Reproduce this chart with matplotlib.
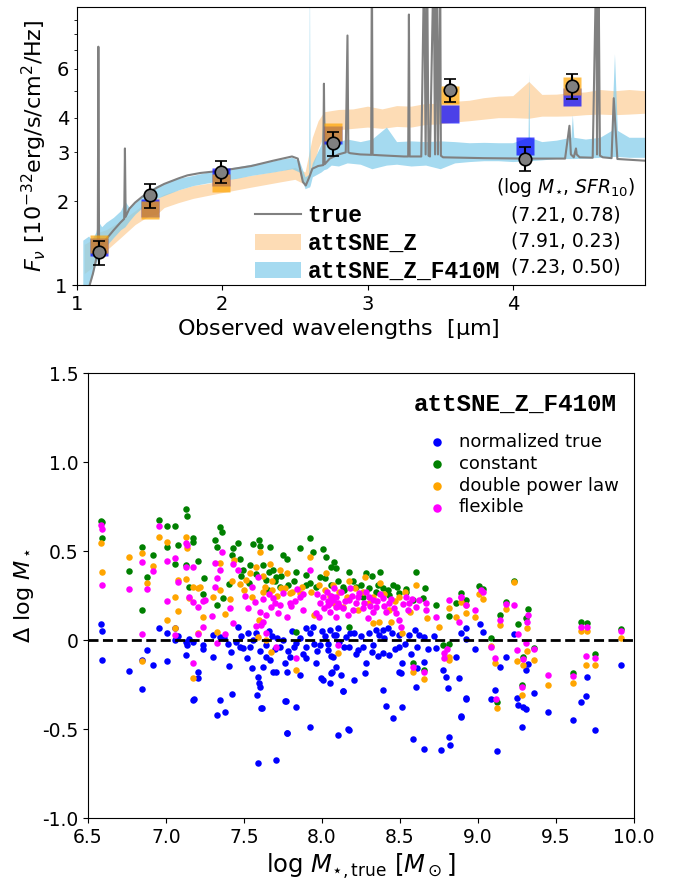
import numpy as np
import matplotlib
matplotlib.use("Agg")
import matplotlib.pyplot as plt
from matplotlib.lines import Line2D
from matplotlib.patches import Patch
from matplotlib.ticker import FixedLocator, FixedFormatter

# ---------------------------------------------------------------- SED panel data
# intrinsic ("true") spectrum: continuum knots plus emission-line spikes [um, 1e-32 cgs]
true_wave = [1.08, 1.11, 1.135, 1.143, 1.147, 1.152, 1.17, 1.20, 1.25, 1.30, 1.325, 1.33, 1.335,
             1.36, 1.40, 1.45, 1.50, 1.55, 1.60, 1.70, 1.76, 1.85, 2.00, 2.20, 2.35, 2.48,
             2.52, 2.555, 2.575, 2.60, 2.62, 2.66, 2.695, 2.70, 2.705, 2.74, 2.80, 2.85,
             2.862, 2.868, 2.88, 2.95, 3.025, 3.03, 3.035, 3.08, 3.25, 3.28, 3.285, 3.29,
             3.37, 3.39, 3.40, 3.41, 3.42, 3.43, 3.455, 3.465, 3.475, 3.485, 3.50, 3.505,
             3.52, 3.80, 4.10, 4.36, 4.39, 4.40, 4.42, 4.435, 4.44, 4.46, 4.55, 4.575, 4.58,
             4.59, 4.60, 4.62, 4.68, 4.695, 4.72, 4.91]
true_flux = [0.97, 1.10, 1.26, 1.30, 7.2, 1.33, 1.40, 1.46, 1.57, 1.68, 1.73, 3.1, 1.76,
             1.88, 1.98, 2.08, 2.16, 2.24, 2.31, 2.42, 2.48, 2.53, 2.58, 2.68, 2.80, 2.90,
             2.85, 2.35, 2.28, 2.45, 2.62, 2.68, 2.70, 5.3, 2.72, 2.85, 2.95, 3.00,
             7.9, 3.00, 2.98, 2.95, 2.94, 15.0, 2.94, 2.93, 2.90, 2.90, 9.4, 2.90,
             2.90, 15.0, 2.95, 15.0, 2.92, 2.90, 15.0, 2.95, 15.0, 2.95, 15.0, 2.92,
             2.88, 2.86, 2.85, 2.85, 3.74, 2.95, 2.88, 3.10, 2.95, 2.88, 2.87, 15.0, 2.95,
             15.0, 2.92, 2.88, 2.86, 4.7, 2.84, 2.80]

# 16-84% model envelopes: (wavelength, lower, upper)
band_wave_z = [1.05, 1.10, 1.15, 1.20, 1.30, 1.40, 1.50, 1.55, 1.60, 1.70, 1.80, 1.90, 2.00,
               2.20, 2.40, 2.50, 2.57, 2.62, 2.66, 2.70, 2.80, 2.90, 3.00, 3.10, 3.20, 3.30,
               3.40, 3.50, 3.60, 3.70, 3.80, 3.90, 4.00, 4.11, 4.20, 4.30, 4.40, 4.50,
               4.60, 4.70, 4.80, 4.91]
band_lo_z = [1.10, 1.15, 1.28, 1.33, 1.48, 1.65, 1.78, 1.80, 1.90, 1.98, 2.05, 2.10, 2.15,
             2.25, 2.35, 2.40, 2.30, 2.60, 3.10, 3.45, 3.62, 3.66, 3.70, 3.66, 3.72, 3.70,
             3.78, 3.80, 3.86, 3.90, 3.95, 4.00, 4.00, 3.98, 4.05, 4.05, 4.06, 4.10,
             4.12, 4.10, 4.12, 4.15]
band_hi_z = [1.40, 1.45, 1.55, 1.58, 1.70, 1.85, 2.02, 2.05, 2.12, 2.20, 2.28, 2.32, 2.38,
             2.48, 2.58, 2.65, 2.55, 3.40, 3.90, 4.20, 4.28, 4.30, 4.40, 4.30, 4.42, 4.40,
             4.50, 4.50, 4.58, 4.62, 4.72, 4.78, 4.80, 5.40, 4.85, 4.86, 4.92, 4.95,
             5.05, 5.00, 5.05, 5.00]

band_wave_f = [1.04, 1.08, 1.10, 1.13, 1.145, 1.17, 1.20, 1.25, 1.30, 1.33, 1.36, 1.40, 1.45,
               1.50, 1.55, 1.60, 1.70, 1.80, 1.90, 2.00, 2.10, 2.20, 2.35, 2.48, 2.53, 2.57,
               2.595, 2.60, 2.605, 2.62, 2.68, 2.70, 2.72, 2.75, 2.80, 2.86, 2.95, 3.03,
               3.13, 3.20, 3.30, 3.40, 3.50, 3.60, 3.70, 3.80, 3.90, 4.00, 4.105, 4.11,
               4.115, 4.20, 4.30, 4.40, 4.41, 4.42, 4.50, 4.60, 4.68, 4.70, 4.72, 4.80, 4.91]
band_lo_f = [0.95, 1.00, 1.05, 1.20, 1.25, 1.30, 1.38, 1.48, 1.58, 1.62, 1.70, 1.80, 1.90,
             1.98, 2.05, 2.10, 2.20, 2.28, 2.33, 2.38, 2.42, 2.48, 2.55, 2.62, 2.55, 2.22,
             2.25, 2.25, 2.28, 2.45, 2.55, 2.60, 2.62, 2.70, 2.68, 2.75, 2.72, 2.62,
             2.70, 2.72, 2.68, 2.70, 2.62, 2.75, 2.78, 2.80, 2.80, 2.78, 2.80, 2.80,
             2.80, 2.82, 2.85, 2.85, 2.85, 2.85, 2.86, 2.88, 2.90, 2.90, 2.90, 2.88, 2.88]
band_hi_f = [1.45, 1.50, 1.45, 1.55, 1.70, 1.62, 1.68, 1.75, 1.85, 2.00, 1.90, 1.98, 2.10,
             2.20, 2.28, 2.33, 2.42, 2.48, 2.55, 2.62, 2.66, 2.72, 2.80, 2.88, 2.80, 2.45,
             2.50, 15.0, 2.55, 2.75, 3.20, 4.20, 3.30, 3.25, 3.28, 3.35, 3.28, 3.35,
             3.70, 3.28, 3.30, 3.28, 3.30, 3.28, 3.25, 3.26, 3.25, 3.25, 3.40, 5.80,
             3.40, 3.28, 3.32, 3.40, 4.10, 3.40, 3.35, 3.40, 3.60, 6.80, 3.60, 3.40, 3.40]

# NIRCam photometry
filter_wave = [1.154, 1.501, 1.989, 2.762, 3.568, 4.082, 4.408]
obs_flux = [1.31, 2.10, 2.56, 3.23, 5.04, 2.85, 5.20]
obs_err = [0.13, 0.21, 0.24, 0.31, 0.48, 0.28, 0.53]
# model photometry (attSNE_Z has no F410M)
model_wave_z = [1.154, 1.501, 1.989, 2.762, 3.568, 4.408]
model_flux_z = [1.40, 1.86, 2.33, 3.55, 4.82, 5.20]
model_wave_f = [1.154, 1.501, 1.989, 2.762, 3.568, 4.082, 4.408]
model_flux_f = [1.37, 1.90, 2.45, 3.46, 4.14, 3.17, 4.76]

fit_names = ["true", "attSNE_Z", "attSNE_Z_F410M"]
fit_values = ["(7.21, 0.78)", "(7.91, 0.23)", "(7.23, 0.50)"]

# ---------------------------------------------------------------- mass-offset panel data
# (log M_true, Delta log M) for each star-formation-history prior
pts_normalized = [
    (6.585, 0.09), (6.59, 0.05), (6.59, -0.115), (6.764, -0.174), (6.845, -0.11), (6.845, -0.277),
    (6.875, -0.054), (6.918, -0.142), (6.956, 0.069), (7.005, 0.041), (7.005, -0.12), (7.055, 0.066),
    (7.06, 0.0), (7.078, 0.024), (7.127, -0.01), (7.135, -0.03), (7.13, -0.082), (7.145, 0.008),
    (7.17, -0.335), (7.174, -0.01), (7.206, -0.177), (7.206, -0.215), (7.238, -0.028), (7.238, -0.052),
    (7.302, -0.094), (7.302, 0.028), (7.345, -0.337), (7.324, -0.421), (7.377, -0.402), (7.426, -0.303),
    (7.405, -0.146), (7.419, -0.066), (7.462, 0.075), (7.473, -0.037), (7.526, 0.037), (7.494, -0.047),
    (7.554, -0.159), (7.59, -0.206), (7.596, -0.243), (7.6, -0.262), (7.583, -0.309), (7.611, -0.384),
    (7.59, -0.693), (7.703, -0.674), (7.643, -0.028), (7.643, -0.094), (7.664, -0.112), (7.686, -0.178),
    (7.703, -0.178), (7.728, -0.037), (7.762, -0.131), (7.775, -0.178), (7.767, -0.34), (7.792, -0.094),
    (7.835, -0.019), (7.835, -0.378), (7.856, -0.197), (7.899, 0.066), (7.941, 0.071), (7.92, 0.037),
    (7.963, -0.127), (7.995, -0.215), (8.005, -0.225), (8.037, -0.056), (8.058, -0.187), (7.924, -0.49),
    (7.775, -0.52), (8.101, -0.534), (8.09, 0.028), (7.345, 0.019), (7.536, -0.037), (7.899, -0.037),
    (7.984, -0.028), (7.37, 0.01), (7.45, -0.01), (7.56, 0.0), (7.6, -0.06), (7.68, 0.02), (7.70, -0.05),
    (7.75, 0.0), (7.81, 0.05), (7.88, -0.08), (7.95, -0.02), (8.02, 0.02), (8.06, -0.09), (7.66, 0.05),
    (7.52, -0.10), (7.62, -0.15), (7.97, -0.06), (7.86, 0.01), (7.78, -0.06), (7.76, -0.34),
    (7.617, -0.383), (7.777, -0.52), (8.168, -0.501), (8.135, -0.284), (7.178, -0.333),
    (8.048, 0.056), (8.08, 0.028), (8.112, -0.009), (8.155, 0.019), (8.176, -0.037), (8.208, 0.037),
    (8.229, -0.056), (8.261, -0.037), (8.283, -0.131), (8.321, -0.066), (8.346, 0.056), (8.368, 0.028),
    (8.389, 0.056), (8.389, -0.075), (8.42, 0.066), (8.432, -0.084), (8.496, 0.028), (8.496, -0.037),
    (8.512, -0.131), (8.506, -0.187), (8.559, 0.028), (8.597, 0.056), (8.606, -0.037), (8.655, 0.019),
    (8.652, -0.122), (8.602, -0.262), (8.73, -0.047), (8.773, -0.169), (8.794, -0.206), (8.805, -0.272),
    (8.879, -0.215), (8.922, -0.328), (8.89, -0.431), (8.858, -0.094), (8.89, 0.037), (8.922, 0.066),
    (8.41, -0.37), (8.453, -0.44), (8.512, -0.375), (8.389, -0.28), (8.133, -0.287), (8.172, -0.503),
    (8.581, -0.557), (8.652, -0.61), (8.762, -0.618), (8.811, -0.547), (8.82, -0.59), (8.122, -0.197),
    (8.091, -0.15), (8.069, -0.094), (8.065, -0.178), (8.048, -0.243), (8.208, -0.225), (8.278, -0.185),
    (8.496, -0.178), (8.611, -0.159),
    (8.00, 0.05), (8.04, -0.02), (8.10, 0.07), (8.14, -0.04), (8.18, 0.04), (8.22, -0.08), (8.25, 0.02),
    (8.30, 0.04), (8.33, -0.03), (8.36, -0.09), (8.40, 0.01), (8.45, 0.04), (8.47, -0.05), (8.53, -0.02),
    (8.57, -0.08), (8.62, 0.03), (8.68, -0.05), (8.72, 0.02), (7.90, -0.10), (7.82, -0.04), (7.71, 0.01),
    (7.58, 0.04), (7.48, 0.02), (7.40, -0.02),
    (9.012, 0.09), (9.033, 0.047), (8.923, 0.004), (8.982, -0.052), (9.14, -0.15), (9.231, 0.034),
    (9.182, -0.097), (9.321, -0.135), (9.31, -0.169), (9.359, -0.295), (9.11, -0.281), (9.082, -0.333),
    (8.923, -0.331), (8.891, -0.427), (9.253, -0.328), (9.259, -0.365), (9.289, -0.374), (9.31, -0.389),
    (9.281, -0.487), (9.121, -0.622), (9.449, -0.403), (9.608, -0.45), (9.7, -0.206), (9.689, -0.315),
    (9.66, -0.346), (9.749, -0.506), (9.917, -0.14)]

pts_constant = [
    (6.585, 0.67), (6.59, 0.665), (6.59, 0.571), (6.764, 0.388), (6.845, 0.521), (6.845, 0.167),
    (6.875, 0.352), (6.918, 0.478), (6.956, 0.672), (7.005, 0.639), (7.005, 0.524), (7.055, 0.64),
    (7.06, 0.427), (7.078, 0.534), (7.127, 0.734), (7.135, 0.697), (7.13, 0.421), (7.145, 0.30),
    (7.174, 0.575), (7.174, 0.552), (7.206, 0.444), (7.238, 0.257),
    (7.345, 0.637), (7.356, 0.605), (7.313, 0.562), (7.324, 0.524), (7.243, 0.351), (7.43, 0.515),
    (7.462, 0.543), (7.426, 0.478), (7.473, 0.453), (7.558, 0.541), (7.596, 0.562), (7.6, 0.528),
    (7.664, 0.524), (7.75, 0.478), (7.775, 0.453), (7.856, 0.515), (7.924, 0.571), (7.941, 0.496),
    (8.005, 0.509), (8.026, 0.468), (8.08, 0.44), (7.686, 0.393), (7.707, 0.356), (7.643, 0.337),
    (7.366, 0.234), (7.328, 0.197), (7.405, 0.315), (7.494, 0.393), (7.536, 0.421), (7.728, 0.30),
    (7.835, 0.384), (7.899, 0.309), (7.984, 0.356), (8.058, 0.412), (7.835, 0.047), (7.654, 0.281),
    (7.90, 0.365),
    (7.62, 0.42), (7.66, 0.38), (7.70, 0.33), (7.74, 0.36), (7.78, 0.31), (7.82, 0.33), (7.92, 0.32),
    (7.96, 0.30), (8.02, 0.35), (8.06, 0.31), (8.10, 0.33), (8.14, 0.28), (8.20, 0.33), (8.25, 0.31),
    (8.30, 0.29), (8.36, 0.31), (8.42, 0.28), (8.48, 0.30), (8.54, 0.27), (7.48, 0.36), (7.53, 0.32),
    (7.58, 0.37),
    (8.091, 0.403), (8.172, 0.384), (8.283, 0.378), (8.321, 0.359), (8.372, 0.384), (8.453, 0.309),
    (8.602, 0.384), (8.538, 0.285), (8.662, 0.291), (8.649, 0.234), (8.73, 0.197), (8.811, 0.135),
    (8.858, 0.206), (8.922, 0.225), (8.133, 0.30), (8.219, 0.30), (8.261, 0.243), (8.346, 0.272),
    (8.389, 0.291), (8.432, 0.253), (8.496, 0.262), (8.581, 0.225), (8.773, -0.028), (8.815, -0.022),
    (8.581, -0.131), (8.652, -0.169), (8.172, 0.075),
    (8.891, 0.262), (9.008, 0.303), (9.029, 0.285), (9.082, 0.009), (9.178, 0.215), (9.231, 0.333),
    (9.142, 0.14), (9.259, 0.09), (9.321, 0.172), (9.306, 0.125), (9.291, -0.094), (9.359, -0.047),
    (9.121, -0.346), (9.281, -0.255), (9.608, -0.184), (9.657, 0.103), (9.70, 0.094), (9.749, -0.08),
    (9.917, 0.062)]

pts_double_power = [
    (6.585, 0.545), (6.59, 0.38), (6.764, 0.464), (6.845, 0.491), (6.845, -0.12), (6.875, 0.322),
    (6.918, 0.418), (6.956, 0.579), (7.005, 0.552), (7.005, 0.112), (7.055, 0.243), (7.06, 0.066),
    (7.078, 0.337), (7.078, 0.165), (7.127, 0.58), (7.135, 0.515), (7.13, 0.343), (7.145, 0.234),
    (7.17, -0.215), (7.174, 0.30), (7.206, 0.291), (7.206, 0.037), (7.238, 0.131),
    (7.217, 0.30), (7.298, 0.24), (7.349, 0.434), (7.349, 0.281), (7.377, 0.146), (7.409, 0.228),
    (7.436, 0.449), (7.426, 0.333), (7.473, 0.315), (7.515, 0.337), (7.541, 0.378), (7.579, 0.412),
    (7.60, 0.496), (7.622, 0.272), (7.632, 0.30), (7.664, 0.427), (7.681, 0.281), (7.728, 0.393),
    (7.739, 0.29), (7.775, 0.374), (7.792, 0.262), (7.856, 0.262), (7.92, 0.468), (7.95, 0.14),
    (8.026, 0.378), (8.068, 0.309), (8.08, 0.206), (7.643, 0.0), (7.675, -0.07), (7.835, -0.169),
    (7.324, 0.047), (7.596, 0.112), (7.59, 0.019),
    (7.62, 0.36), (7.68, 0.33), (7.71, 0.25), (7.76, 0.29), (7.81, 0.27), (7.87, 0.30), (7.93, 0.27),
    (7.98, 0.31), (8.02, 0.28), (8.05, 0.25), (8.11, 0.27), (8.16, 0.24), (8.21, 0.29), (8.26, 0.27),
    (8.33, 0.24), (8.40, 0.26), (8.47, 0.22), (8.53, 0.27), (7.50, 0.28), (7.55, 0.24),
    (8.172, 0.334), (8.278, 0.353), (8.372, 0.319), (8.496, 0.244), (8.602, 0.31), (8.564, 0.159),
    (8.67, 0.122), (8.751, 0.075), (8.811, 0.178), (8.811, -0.094), (8.811, -0.112), (8.858, 0.131),
    (8.581, -0.178), (8.652, -0.22), (8.101, -0.075), (8.325, 0.094), (8.368, 0.103), (8.442, 0.103),
    (8.512, 0.037), (8.069, 0.215), (8.133, 0.187), (8.229, 0.169), (8.304, 0.206), (8.432, 0.169),
    (8.922, 0.197),
    (8.891, 0.215), (8.923, 0.15), (9.008, 0.258), (9.033, 0.228), (8.982, 0.128), (9.082, -0.034),
    (9.11, -0.127), (9.178, 0.172), (9.231, 0.324), (9.142, 0.082), (9.312, 0.066), (9.312, -0.06),
    (9.25, -0.116), (9.291, -0.142), (9.359, -0.112), (9.121, -0.384), (9.281, -0.309), (9.449, -0.25),
    (9.608, -0.243), (9.657, 0.049), (9.70, 0.049), (9.689, -0.142), (9.749, -0.142), (9.917, 0.013)]

pts_flexible = [
    (6.585, 0.645), (6.59, 0.625), (6.59, 0.309), (6.764, 0.285), (6.845, 0.436), (6.845, 0.036),
    (6.875, 0.285), (6.918, 0.389), (6.956, 0.64), (7.005, 0.446), (7.005, 0.221), (7.055, 0.459),
    (7.06, 0.028), (7.078, 0.328), (7.127, 0.543), (7.135, 0.534), (7.13, 0.408), (7.145, 0.243),
    (7.17, -0.127), (7.174, 0.412), (7.174, 0.212), (7.206, 0.184), (7.206, 0.034), (7.238, 0.219),
    (7.356, 0.496), (7.313, 0.43), (7.324, 0.346), (7.313, 0.30), (7.345, 0.393), (7.249, 0.225),
    (7.292, 0.135), (7.238, 0.071), (7.377, 0.034), (7.324, -0.015), (7.409, 0.178), (7.43, 0.098),
    (7.43, 0.427), (7.462, 0.393), (7.505, 0.247), (7.526, 0.178), (7.569, 0.215), (7.59, 0.356),
    (7.60, 0.159), (7.611, 0.084), (7.643, 0.14), (7.675, 0.187), (7.686, 0.234), (7.728, 0.197),
    (7.75, 0.262), (7.775, 0.131), (7.792, 0.206), (7.839, 0.285), (7.856, 0.243), (7.878, 0.169),
    (7.92, 0.393), (7.963, 0.15), (8.005, 0.243), (8.037, 0.197), (8.068, 0.225), (8.09, 0.187),
    (7.835, -0.103), (7.707, -0.037), (7.643, 0.037),
    (7.97, 0.26), (7.99, 0.21), (8.01, 0.18), (8.03, 0.27), (8.05, 0.16), (8.07, 0.24), (8.10, 0.21),
    (7.98, 0.13), (8.04, 0.22), (8.08, 0.29), (8.06, 0.25), (8.11, 0.19), (8.15, 0.22), (8.19, 0.25),
    (8.20, 0.17), (8.23, 0.24), (8.27, 0.21), (8.31, 0.19), (8.35, 0.22), (8.37, 0.26), (8.40, 0.19),
    (8.44, 0.23), (8.46, 0.18), (8.52, 0.20), (8.55, 0.17), (8.58, 0.23), (8.12, 0.27), (8.18, 0.29),
    (8.28, 0.27), (8.33, 0.16), (7.55, 0.30), (7.62, 0.23), (7.66, 0.26), (7.70, 0.21), (7.72, 0.15),
    (7.80, 0.19), (7.83, 0.22), (7.88, 0.26), (7.58, 0.08), (7.62, 0.10),
    (8.101, -0.028), (8.78, -0.071), (8.803, -0.053), (8.782, -0.103), (8.655, -0.178), (8.581, -0.15),
    (8.811, 0.225), (8.89, 0.243), (8.73, 0.131), (8.666, 0.169), (8.048, 0.206), (8.091, 0.243),
    (8.133, 0.178), (8.165, 0.14), (8.176, 0.225), (8.219, 0.206), (8.261, 0.178), (8.304, 0.243),
    (8.325, 0.225), (8.346, 0.187), (8.389, 0.234), (8.432, 0.206), (8.474, 0.15), (8.496, 0.112),
    (8.506, 0.075), (8.538, 0.243), (8.559, 0.206), (8.602, 0.187), (8.623, 0.225), (8.666, 0.206),
    (8.091, 0.131), (8.24, 0.262), (8.41, 0.159), (8.293, 0.122),
    (8.891, 0.243), (8.923, 0.197), (8.88, 0.103), (9.019, 0.281), (9.033, 0.268), (8.982, 0.169),
    (9.082, -0.037), (9.11, -0.099), (9.178, 0.202), (9.231, 0.195), (9.142, 0.112), (9.259, 0.034),
    (9.321, 0.14), (9.312, 0.101), (9.31, -0.019), (9.25, -0.056), (9.291, -0.105), (9.359, -0.05),
    (9.118, -0.333), (9.281, -0.262), (9.449, -0.198), (9.608, -0.202), (9.657, 0.071), (9.70, 0.071),
    (9.689, -0.088), (9.749, -0.103), (9.917, 0.053)]

sfh_labels = ["normalized true", "constant", "double power law", "flexible"]
sfh_colors = ["blue", "green", "orange", "magenta"]

x_ticks = [6.5, 7.0, 7.5, 8.0, 8.5, 9.0, 9.5, 10.0]
y_ticks = [-1.0, -0.5, 0.0, 0.5, 1.0, 1.5]
y_tick_labels = ["-1.0", "-0.5", "0", "0.5", "1.0", "1.5"]

# ---------------------------------------------------------------- figure
mono = {"family": "Liberation Mono", "weight": "bold"}

fig = plt.figure(figsize=(6.76, 8.81), dpi=100)

# SED panel
ax1 = fig.add_axes([0.1139, 0.6765, 0.8402, 0.3155])
ax1.fill_between(band_wave_z, band_lo_z, band_hi_z, color="#fddcb5", lw=0, zorder=1)
ax1.fill_between(band_wave_f, band_lo_f, band_hi_f, color="skyblue", alpha=0.75, lw=0, zorder=1.5)
ax1.plot(true_wave, true_flux, color="gray", lw=1.5, zorder=2)
ax1.plot(model_wave_f, model_flux_f, "s", color="blue", alpha=0.7, ms=12.5, mec="none", zorder=3)
ax1.plot(model_wave_z, model_flux_z, "s", color="orange", alpha=0.7, ms=12.5, mec="none", zorder=4)
ax1.errorbar(filter_wave, obs_flux, yerr=obs_err, fmt="o", ms=9, mfc="gray", mec="black",
             mew=1.2, ecolor="black", elinewidth=1.5, capsize=4, capthick=1.5, zorder=5)

ax1.set_yscale("log")
ax1.set_xlim(1.0, 4.91)
ax1.set_ylim(1.0, 10.0)
ax1.xaxis.set_major_locator(FixedLocator([1, 2, 3, 4]))
ax1.yaxis.set_major_locator(FixedLocator([1]))
ax1.yaxis.set_major_formatter(FixedFormatter(["1"]))
ax1.yaxis.set_minor_locator(FixedLocator([2, 3, 4, 5, 6, 7, 8, 9]))
ax1.yaxis.set_minor_formatter(FixedFormatter(["2", "3", "4", "", "6", "", "", ""]))
ax1.tick_params(axis="both", which="both", labelsize=14)
ax1.set_xlabel(r"Observed wavelengths  [$\mathrm{\mu}$m]", fontsize=16)
ax1.xaxis.set_label_coords(0.461, -0.115)
ax1.set_ylabel(r"$F_\nu$ [$10^{-32}$erg/s/cm$^2$/Hz]", fontsize=16)

sed_handles = [Line2D([], [], color="gray", lw=1.5),
               Patch(facecolor="#fddcb5", edgecolor="none"),
               Patch(facecolor="skyblue", alpha=0.75, edgecolor="none")]
ax1.legend(sed_handles, fit_names, loc="upper left", bbox_to_anchor=(0.313, 0.29),
           frameon=False, borderpad=0, borderaxespad=0, handlelength=2.0,
           handletextpad=0.3, labelspacing=0.2, prop={**mono, "size": 16.5})
ax1.text(0.861, 0.349, r"(log $M_{\star}$, $SFR_{10}$)", transform=ax1.transAxes,
         ha="center", va="center", fontsize=13.5)
for row_y, val in zip([0.252, 0.158, 0.065], fit_values):
    ax1.text(0.861, row_y, val, transform=ax1.transAxes, ha="center", va="center", fontsize=13.5)

# mass-offset panel
ax2 = fig.add_axes([0.1302, 0.0715, 0.8077, 0.5051])
for pts, col, lab in zip([pts_normalized, pts_constant, pts_double_power, pts_flexible],
                         sfh_colors, sfh_labels):
    arr = np.array(pts)
    ax2.scatter(arr[:, 0], arr[:, 1], s=22, color=col, lw=0, label=lab)
ax2.axhline(0, color="black", ls="--", lw=2, dashes=(3.6, 1.6))
ax2.set_xlim(6.5, 10.0)
ax2.set_ylim(-1.0, 1.5)
ax2.set_xticks(x_ticks)
ax2.set_xticklabels([f"{v:.1f}" for v in x_ticks])
ax2.set_yticks(y_ticks)
ax2.set_yticklabels(y_tick_labels)
ax2.tick_params(axis="both", labelsize=13.5)
ax2.set_xlabel(r"log $M_{\star,\mathrm{true}}$ [$M_\odot$]", fontsize=17.5)
ax2.set_ylabel(r"$\Delta$ log $M_\star$", fontsize=16)
ax2.text(0.782, 0.930, "attSNE_Z_F410M", transform=ax2.transAxes, ha="center", va="center",
         fontdict={**mono, "size": 17.5})
ax2.legend(loc="upper left", bbox_to_anchor=(0.623, 0.865), frameon=False, borderpad=0,
           borderaxespad=0, handlelength=1.0, handletextpad=0.7, labelspacing=0.21,
           markerscale=1.3, fontsize=13)

fig.savefig("out.png", dpi=100)
